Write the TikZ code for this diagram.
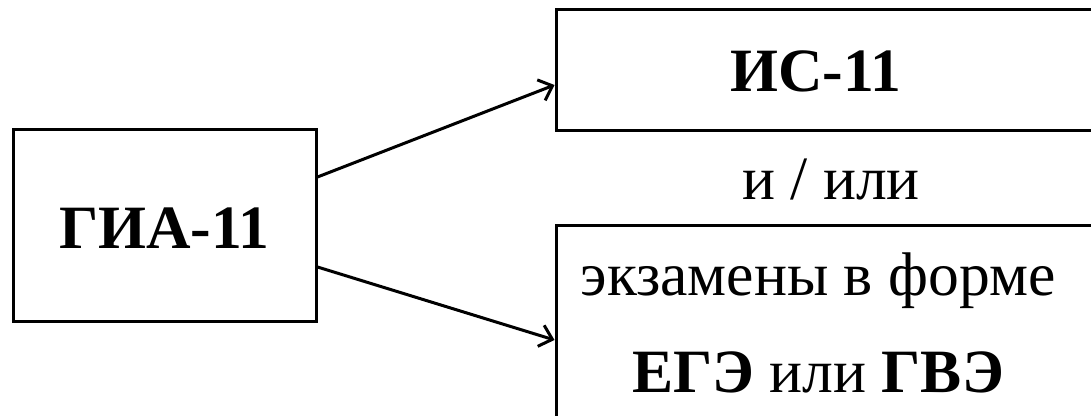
\documentclass[tikz,border=0pt]{standalone}
\usepackage{fontspec}
\setmainfont{Liberation Serif}
\usetikzlibrary{arrows.meta}

\begin{document}
\begin{tikzpicture}[x=0.5pt,y=0.5pt,
    box/.style={draw=black,line width=1.5pt,inner sep=0pt},
    txt/.style={inner sep=0pt,anchor=base,font=\fontsize{30.8}{37}\selectfont},
    arr/.style={line width=1.5pt,-{Straight Barb[length=6pt,width=11pt,line width=1.5pt]}}]
    \useasboundingbox (0,0) rectangle (1091,-416);
    \clip (0,0) rectangle (1091,-416);
    \node [box,minimum width=151.5pt,minimum height=96pt] (gia) at (164.5,-226) {};
    \node [box,minimum width=269pt,minimum height=60.5pt] (ic) at (825,-70.5) {};
    \node [box,minimum width=269pt,minimum height=97pt] (ekz) at (825,-323) {};
    \node [txt] (giaT) at (164.5,-249) {\bfseries ГИА-11};
    \node [txt] (icT) at (816,-92) {\bfseries ИС-11};
    \node [txt] (ili) at (831,-200) {и / или};
    \node [txt] (ekzA) at (818,-296) {экзамены в форме};
    \node [txt] (ekzB) at (818,-393) {\textbf{ЕГЭ} или \textbf{ГВЭ}};
    \draw [arr] ([yshift=24.5pt]gia.east) -- ([yshift=-7.25pt]ic.west);
    \draw [arr] ([yshift=-20.5pt]gia.east) -- ([yshift=-8.5pt]ekz.west);
\end{tikzpicture}
\end{document}
